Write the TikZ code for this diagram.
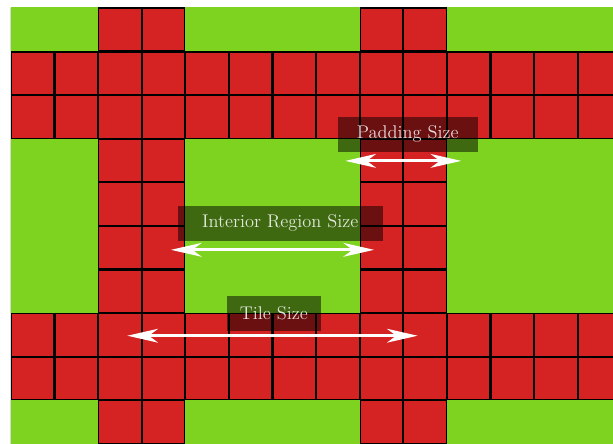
\documentclass[tikz,border=0pt]{standalone}
\usepackage{xcolor}
\usepackage{tikz}
\usetikzlibrary{arrows.meta}
\definecolor{TileGreen}{RGB}{126,211,33}
\definecolor{PadRed}{RGB}{213,34,34}

\tikzset{
  sizelabel/.style={fill=black,fill opacity=0.5,text=white,text opacity=0.85,
    minimum height=0.8cm,inner sep=0pt,font=\large},
  sizearrow/.style={white,line width=2pt,
    {Stealth[length=20pt,width=9pt,inset=6pt]}-{Stealth[length=20pt,width=9pt,inset=6pt]},
    shorten <=-0.33cm,shorten >=-0.33cm}
}

\begin{document}
\begin{tikzpicture}
    \useasboundingbox (-0.25,0.18) rectangle (13.81,-10);
    % padded tiles
    \begin{scope}
      \clip (0,0) rectangle (14,-10);
      \fill[PadRed] (0,0) rectangle (14,-10);
      \draw[line width=1.4pt] (0,-10) grid (14,0);
      \foreach \x in {-2,4,10}
        \foreach \y in {3,-3,-9}
          \fill[TileGreen] (\x,\y) rectangle ++(4,-4);
    \end{scope}
    % size labels
    \node[sizelabel,minimum width=3.21cm] (padlbl) at (9.10,-2.90) {Padding Size};
    \node[sizelabel,minimum width=4.70cm] (intlbl) at (6.18,-4.94) {Interior Region Size};
    \node[sizelabel,minimum width=2.16cm] (tilelbl) at (6.03,-7.01) {Tile Size};
    \coordinate (padL) at (8,-3.51);
    \coordinate (padR) at (10,-3.51);
    \coordinate (intL) at (4,-5.55);
    \coordinate (intR) at (8,-5.55);
    \coordinate (tileL) at (3,-7.52);
    \coordinate (tileR) at (9,-7.52);
    \draw[sizearrow] (padL) -- (padR);
    \draw[sizearrow] (intL) -- (intR);
    \draw[sizearrow] (tileL) -- (tileR);
  \end{tikzpicture}
\end{document}
